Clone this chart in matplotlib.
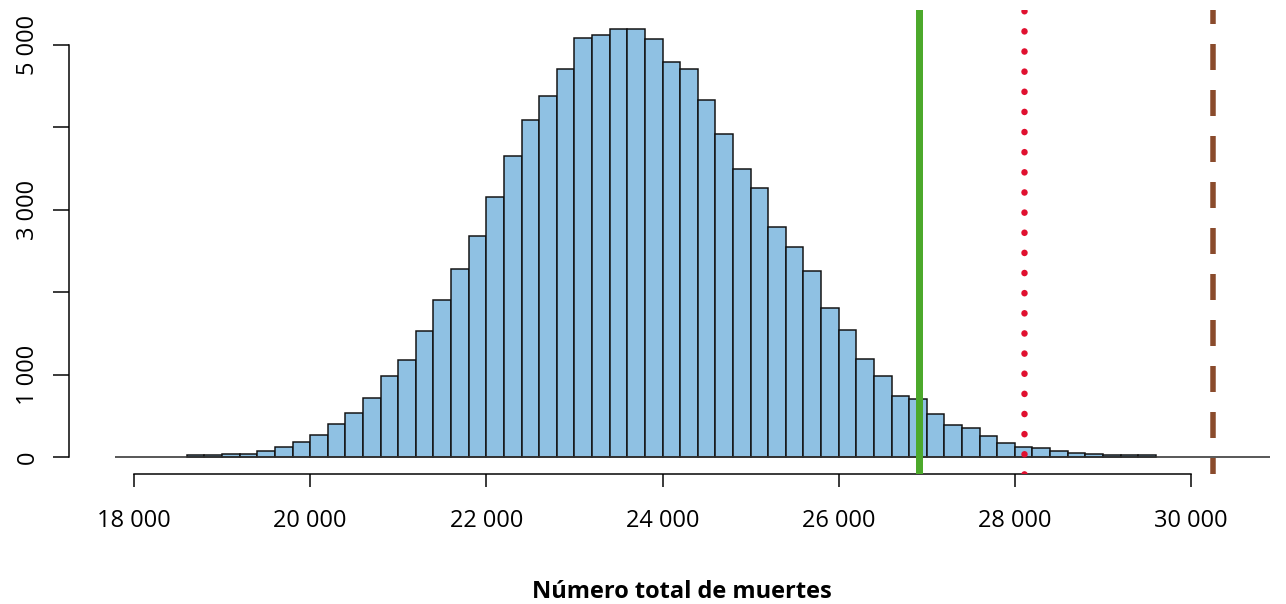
import numpy as np
import matplotlib
matplotlib.use("Agg")
import matplotlib.pyplot as plt

plt.rcParams["font.family"] = ["Open Sans", "DejaVu Sans"]
plt.rcParams["lines.scale_dashes"] = False

# Histogram: left edge of each 200-wide bin and its count
bin_width = 200
bin_left = [18600, 18800, 19000, 19200, 19400, 19600, 19800,
            20000, 20200, 20400, 20600, 20800, 21000, 21200, 21400, 21600, 21800,
            22000, 22200, 22400, 22600, 22800, 23000, 23200, 23400, 23600, 23800,
            24000, 24200, 24400, 24600, 24800, 25000, 25200, 25400, 25600, 25800,
            26000, 26200, 26400, 26600, 26800, 27000, 27200, 27400, 27600, 27800,
            28000, 28200, 28400, 28600, 28800, 29000, 29200, 29400]
counts = [20, 22, 35, 38, 70, 120, 180,
          262, 395, 535, 720, 980, 1183, 1535, 1905, 2282, 2682,
          3152, 3657, 4086, 4385, 4711, 5083, 5117, 5198, 5190, 5077,
          4798, 4713, 4327, 3924, 3495, 3261, 2788, 2552, 2253, 1808,
          1541, 1193, 987, 746, 706, 522, 388, 356, 255, 174,
          125, 113, 69, 45, 36, 24, 20, 24]

# Reference values marked with vertical lines
observed_value = 26912
upper_value = 28104
extreme_value = 30250

x_ticks = [18000, 20000, 22000, 24000, 26000, 28000, 30000]
x_tick_labels = ["18 000", "20 000", "22 000", "24 000", "26 000", "28 000", "30 000"]
y_ticks = [0, 1000, 2000, 3000, 4000, 5000]
y_tick_labels = ["0", "1 000", "", "3 000", "", "5 000"]
x_label = "Número total de muertes"

W, H = 1286, 604
fig = plt.figure(figsize=(W / 100, H / 100), dpi=100)
px = 0.72  # points per pixel at 100 dpi

left_px, right_px, top_px, bottom_px = 115, 1270, 10, 474
ax = fig.add_axes([left_px / W, 1 - bottom_px / H,
                   (right_px - left_px) / W, (bottom_px - top_px) / H])

ax.bar(bin_left, counts, width=bin_width, align="edge",
       color="#8fc1e3", edgecolor="#111111", linewidth=1.5 * px, zorder=2)

ax.set_xlim(17784, 30897)
ax.set_ylim(-206, 5425)

# Baseline under the bars
ax.axhline(0, color="#333333", linewidth=1.6 * px, zorder=3)

# Vertical reference lines
ax.axvline(observed_value, color="#4ca92b", linewidth=7 * px, zorder=4)
ax.axvline(upper_value, color="#e0102f", linewidth=6.5 * px,
           linestyle=(0, (0.1, 20 * px)), dash_capstyle="round", zorder=4)
ax.plot([extreme_value, extreme_value], [5425, -206], color="#8a4b2c",
        linewidth=5.5 * px, linestyle=(12 * px, (26 * px, 20 * px)),
        dash_capstyle="butt", zorder=4, clip_on=True)

# Axes in base-graphics style
for side in ("top", "right"):
    ax.spines[side].set_visible(False)
ax.spines["bottom"].set_bounds(18000, 30000)
ax.spines["bottom"].set_linewidth(1.5 * px)
ax.spines["left"].set_position(("outward", 46 * px))
ax.spines["left"].set_bounds(0, 5000)
ax.spines["left"].set_linewidth(1.5 * px)

ax.set_xticks(x_ticks)
ax.set_xticklabels(x_tick_labels, fontsize=17)
ax.set_yticks(y_ticks)
ax.set_yticklabels(y_tick_labels, fontsize=17, rotation=90, va="center")
ax.tick_params(axis="x", length=13 * px, width=1.5 * px, pad=22 * px)
ax.tick_params(axis="y", length=16 * px, width=1.5 * px, pad=13 * px)

fig.text(681.5 / W, 1 - 592 / H, x_label, ha="center", va="center",
         fontsize=17, fontweight="bold")

fig.savefig("out.png", dpi=100)
